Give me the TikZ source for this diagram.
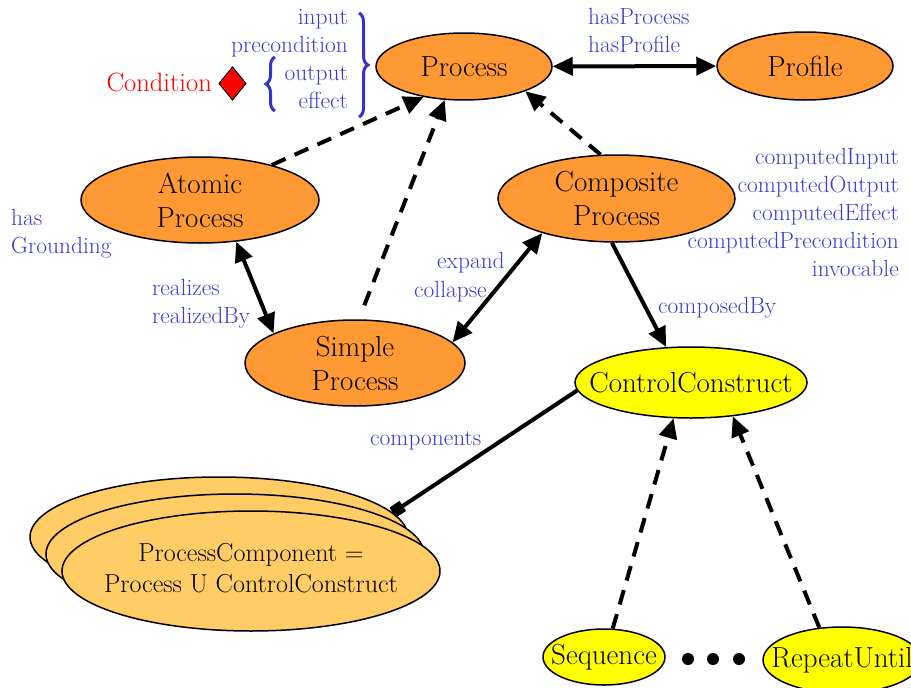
\documentclass[tikz,border=0pt]{standalone}
\usepackage{tikz}
\usetikzlibrary{arrows.meta,shapes.geometric,decorations.pathreplacing}
\definecolor{procorange}{RGB}{255,153,51}
\definecolor{pcyellow}{RGB}{255,204,102}
\definecolor{ccyellow}{RGB}{255,255,0}
\definecolor{lblblue}{RGB}{60,60,205}
\definecolor{braceblue}{RGB}{51,51,204}
% zero width text, so that the ellipse keeps its minimum size
\newcommand{\zw}[1]{\makebox[0pt]{#1}}
\newcommand{\lblstack}[4]{
  % stack of blue property labels, 28pt apart
  % parameter 1: anchor (base west / base east)
  % parameter 2: x of the anchor
  % parameter 3: baseline of the first line
  % parameter 4: comma separated labels
  \foreach \t [count=\i] in {#4} {
    \node[lbl, anchor=#1] (lbl-\t) at (#2, #3+28*\i-28) {\t};
  }
}

\begin{document}
\begin{tikzpicture}[x=1pt,y=-1pt,
    every node/.style={inner sep=0pt},
    cls/.style={ellipse, draw, line width=1.5pt, align=center,
      font=\fontsize{29}{34}\selectfont},
    lbl/.style={text=lblblue, font=\fontsize{23.4}{28}\selectfont},
    twoway/.style={line width=4pt, {Triangle[length=20pt,width=18pt]}-{Triangle[length=20pt,width=18pt]}},
    oneway/.style={line width=4pt, -{Triangle[length=20pt,width=18pt]}},
    isa/.style={oneway, dash pattern=on 15pt off 10pt}]
  \useasboundingbox (0,0) rectangle (911,688);

  % classes
  \node[cls, fill=procorange, minimum width=176pt, minimum height=67pt] (process) at (464,66.5) {Process};
  \node[cls, fill=procorange, minimum width=176pt, minimum height=68pt] (profile) at (805,66) {Profile};
  \node[cls, fill=procorange, minimum width=238pt, minimum height=86pt] (atomic) at (200,200) {Atomic\\Process};
  \node[cls, fill=procorange, minimum width=237pt, minimum height=87pt] (composite) at (616.5,198.5) {Composite\\Process};
  \node[cls, fill=procorange, minimum width=220pt, minimum height=86pt] (simple) at (355,363) {Simple\\Process};
  \node[cls, fill=ccyellow, minimum width=232pt, minimum height=71pt] (cc) at (691,382.5) {\zw{ControlConstruct}};
  \node[cls, fill=ccyellow, minimum width=122pt, minimum height=56pt] (seq) at (604,657) {\zw{Sequence}};
  \node[cls, fill=ccyellow, minimum width=158pt, minimum height=66pt] (repeat) at (842,660) {\zw{RepeatUntil}};

  % stacked process components
  \foreach \d/\n in {2/pcback, 1/pcmid}
    \node[cls, fill=pcyellow, minimum width=378pt, minimum height=120pt] (\n) at (251-16*\d, 571-17*\d) {};
  \node[cls, fill=pcyellow, minimum width=378pt, minimum height=120pt,
    font=\fontsize{26}{31}\selectfont] (pcfront) at (251,571)
    {\zw{\begin{tabular}{@{}c@{}}ProcessComponent =\\Process U ControlConstruct\end{tabular}}};

  \foreach \x in {688,713,739}
    \fill (\x,659) circle (6pt);

  % connectors
  \draw[twoway] (process) -- (profile);
  \draw[isa] (atomic.26) -- (process.217);
  \draw[isa, shorten <=15pt] (simple.85) -- (process.240);
  \draw[isa] (composite.110) -- (process.338);
  \draw[twoway] (atomic.311) -- (simple.160);
  \draw[twoway] (simple.12) -- (composite.205);
  \draw[oneway] (composite.264) -- (cc.125);
  \draw[line width=4pt, -{Square[length=12pt,width=12pt]}] (cc.184) -- (pcback.8);
  \draw[isa] (seq.73) -- (cc.244);
  \draw[isa] (repeat.125) -- (cc.321);

  % properties
  \lblstack{base east}{348}{24}{input,precondition,output,effect}
  \lblstack{base west}{588}{24}{hasProcess,hasProfile}
  \lblstack{base east}{899}{164}{computedInput,computedOutput,computedEffect,computedPrecondition,invocable}
  \lblstack{base west}{11}{225}{has,Grounding}
  \lblstack{base west}{152}{295}{realizes,realizedBy}
  \node[lbl, anchor=base west] (expand) at (437,268) {expand};
  \node[lbl, anchor=base west] (collapse) at (414,297) {collapse};
  \node[lbl, anchor=base west] (composedby) at (658,313) {composedBy};
  \node[lbl, anchor=base west] (components) at (370,445) {components};

  \draw[braceblue, line width=3pt, decorate, decoration={brace, amplitude=9pt}] (359,13) -- (359,117);
  \draw[braceblue, line width=3pt, decorate, decoration={brace, amplitude=9pt}] (275,111) -- (275,57);

  \node[text=red, font=\fontsize{26.5}{31}\selectfont, anchor=base east] (condition) at (212,91) {Condition};
  \draw[fill=red, line width=1pt] (232.5,67) -- (246,83.5) -- (232.5,100) -- (219,83.5) -- cycle;
\end{tikzpicture}
\end{document}
